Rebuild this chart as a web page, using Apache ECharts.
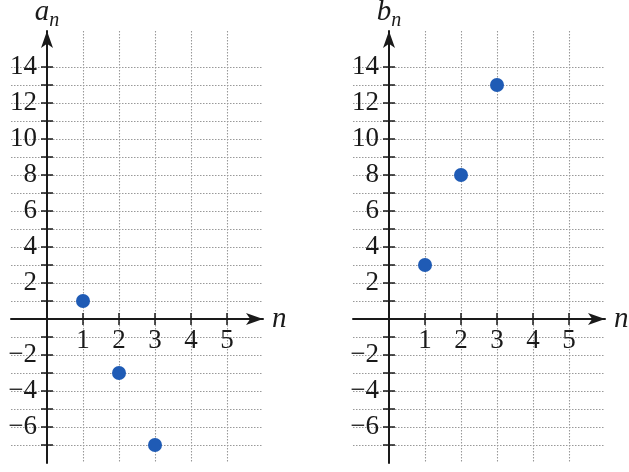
<!DOCTYPE html>
<html>
<head>
<meta charset="utf-8">
<script src="https://cdn.jsdelivr.net/npm/echarts@6/dist/echarts.min.js"></script>
<style>
html,body{margin:0;padding:0;background:#fff;}
#chart{width:629px;height:472px;}
</style>
</head>
<body>
<div id="chart"></div>
<script>
// ---- data ----
const nValues = [1, 2, 3];
const aValues = [1, -3, -7];
const bValues = [3, 8, 13];
const xLabelValues = [1, 2, 3, 4, 5];
const yLabelValues = [-6, -4, -2, 2, 4, 6, 8, 10, 12, 14];
const yTickValues = [-7, -6, -5, -4, -3, -2, -1, 1, 2, 3, 4, 5, 6, 7, 8, 9, 10, 11, 12, 13, 14];
const panelTitles = ['a', 'b'];
const xName = 'n';
const xRange = [-1, 6];
const yRange = [-8, 16];

const FONT = 'Liberation Serif';
const INK = '#1a1a1a';
const GRIDC = '#999999';
const DOT = '#1f5bb5';

const grids = [
  { left: 11, top: 31, width: 252, height: 432 },
  { left: 353, top: 31, width: 252, height: 432 }
];

const fmtNum = v => (v < 0 ? '\u2212' + Math.abs(v) : String(v));

const xAxes = [], yAxes = [], series = [];
grids.forEach((g, gi) => {
  // place axes through the origin via offsets derived from the axis ranges
  const yOffsetX = -(0 - yRange[0]) / (yRange[1] - yRange[0]) * g.height;
  const xOffsetY = -(0 - xRange[0]) / (xRange[1] - xRange[0]) * g.width;
  const xBase = {
    gridIndex: gi, type: 'value', min: xRange[0], max: xRange[1], interval: 1,
    position: 'bottom', offset: yOffsetX
  };
  xAxes.push(Object.assign({}, xBase, {
    name: xName,
    nameLocation: 'end',
    nameGap: 9,
    nameTextStyle: { fontFamily: FONT, fontStyle: 'italic', fontSize: 29, color: INK, verticalAlign: 'middle', padding: [0, 0, 4, 0] },
    axisLine: { show: true, onZero: false, lineStyle: { color: INK, width: 2 }, symbol: ['none', 'arrow'], symbolSize: [9, 17] },
    axisTick: { show: true, customValues: xLabelValues, length: 6, lineStyle: { color: INK, width: 1.5 } },
    axisLabel: { show: true, customValues: xLabelValues, margin: 8, fontFamily: FONT, fontSize: 27, color: INK, formatter: fmtNum },
    splitLine: { show: true, lineStyle: { color: GRIDC, width: 1.1, type: [1.5, 1.5] } }
  }));
  xAxes.push(Object.assign({}, xBase, {
    axisLine: { show: false, onZero: false },
    axisTick: { show: true, inside: true, customValues: xLabelValues, length: 6, lineStyle: { color: INK, width: 1.5 } },
    axisLabel: { show: false },
    splitLine: { show: false }
  }));
  const yBase = {
    gridIndex: gi, type: 'value', min: yRange[0], max: yRange[1], interval: 2,
    position: 'left', offset: xOffsetY
  };
  yAxes.push(Object.assign({}, yBase, {
    name: '{v|' + panelTitles[gi] + '}{s|' + xName + '}',
    nameLocation: 'end',
    nameGap: 0,
    nameTextStyle: {
      rich: {
        v: { fontFamily: FONT, fontStyle: 'italic', fontSize: 29, color: INK, padding: [0, 0, 4, 0] },
        s: { fontFamily: FONT, fontStyle: 'italic', fontSize: 20, color: INK, padding: [12, 0, 0, 0] }
      }
    },
    axisLine: { show: true, onZero: false, lineStyle: { color: INK, width: 2 }, symbol: ['none', 'arrow'], symbolSize: [9, 17] },
    axisTick: { show: true, customValues: yTickValues, length: 6, lineStyle: { color: INK, width: 1.5 } },
    axisLabel: { show: true, customValues: yLabelValues, margin: 10, fontFamily: FONT, fontSize: 27, color: INK, formatter: fmtNum },
    splitLine: { show: true, lineStyle: { color: GRIDC, width: 1.1, type: [1.5, 1.5] } }
  }));
  yAxes.push(Object.assign({}, yBase, {
    axisLine: { show: false, onZero: false },
    axisTick: { show: true, inside: true, customValues: yTickValues, length: 6, lineStyle: { color: INK, width: 1.5 } },
    axisLabel: { show: false },
    splitLine: { show: false }
  }));
  const vals = gi === 0 ? aValues : bValues;
  series.push({
    type: 'scatter',
    xAxisIndex: gi * 2,
    yAxisIndex: gi * 2,
    symbol: 'circle',
    symbolSize: 14,
    itemStyle: { color: DOT, opacity: 1 },
    z: 10,
    data: nValues.map((n, i) => [n, vals[i]])
  });
});

const chart = echarts.init(document.getElementById('chart'), null, { renderer: 'canvas' });
chart.setOption({
  backgroundColor: '#fff',
  animation: false,
  grid: grids.map(g => Object.assign({ containLabel: false, outerBoundsMode: 'none' }, g)),
  xAxis: xAxes,
  yAxis: yAxes,
  series: series
});
</script>
</body>
</html>
